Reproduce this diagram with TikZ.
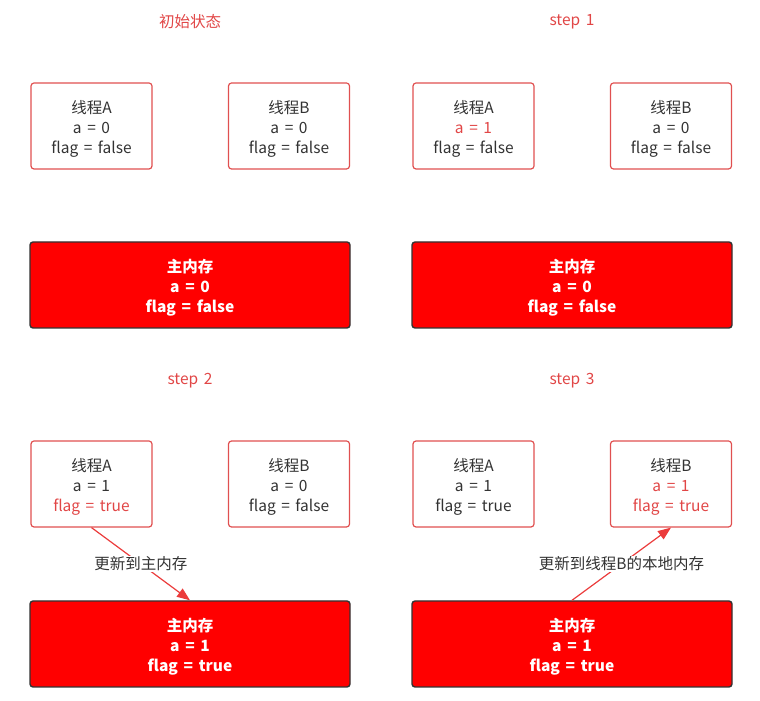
\documentclass[tikz,border=0pt]{standalone}
\usepackage{fontspec}
\setmainfont{Noto Sans CJK SC}
\newfontfamily\cjk[WordSpace=1.6]{Noto Sans CJK SC}
\usetikzlibrary{arrows.meta}
\newcommand{\tstrut}{\rule{0pt}{19pt}}
\definecolor{boxred}{RGB}{224,80,80}
\definecolor{txtgray}{RGB}{51,51,51}
\definecolor{hired}{RGB}{225,70,70}
\definecolor{memred}{RGB}{255,0,0}
\definecolor{memedge}{RGB}{51,51,51}
\definecolor{arrred}{RGB}{235,60,60}
\tikzset{
  thr/.style={draw=boxred, line width=1.2pt, rounded corners=3pt, minimum width=121pt, minimum height=86pt, align=center, text=txtgray, font=\cjk\fontsize{15.5}{20}\selectfont, inner sep=0pt},
  mem/.style={draw=memedge, fill=memred, line width=1.4pt, rounded corners=3pt, minimum width=320pt, minimum height=86pt, align=center, text=white, font=\cjk\bfseries\fontsize{15.5}{20}\selectfont, inner sep=0pt},
  ttl/.style={text=hired, font=\cjk\fontsize{15.5}{18}\selectfont},
  upd/.style={draw=arrred, line width=1.2pt, -{Triangle[width=10pt,length=13pt]}},
  lbl/.style={fill=white, text=txtgray, font=\cjk\fontsize{15.5}{18}\selectfont, inner sep=1pt}
}
\begin{document}
\begin{tikzpicture}[x=1pt,y=1pt]
\useasboundingbox (0,0) rectangle (760,701);
% titles
\node[ttl] (t0) at (190,679) {初始状态};
\node[ttl] (t1) at (572,679) {step 1};
\node[ttl] (t2) at (190,320) {step 2};
\node[ttl] (t3) at (572,320) {step 3};
% initial
\node[thr] (A0) at (91.5,575) {\tstrut 线程A\\a = 0\\flag = false};
\node[thr] (B0) at (289,575) {\tstrut 线程B\\a = 0\\flag = false};
\node[mem] (M0) at (190,416) {\tstrut 主内存\\a = 0\\flag = false};
% step 1
\node[thr] (A1) at (473.5,575) {\tstrut 线程A\\\textcolor{hired}{a = 1}\\flag = false};
\node[thr] (B1) at (671,575) {\tstrut 线程B\\a = 0\\flag = false};
\node[mem] (M1) at (572,416) {\tstrut 主内存\\a = 0\\flag = false};
% step 2
\node[thr] (A2) at (91.5,217) {\tstrut 线程A\\a = 1\\\textcolor{hired}{flag = true}};
\node[thr] (B2) at (289,217) {\tstrut 线程B\\a = 0\\flag = false};
\node[mem] (M2) at (190,57) {\tstrut 主内存\\a = 1\\flag = true};
% step 3
\node[thr] (A3) at (473.5,217) {\tstrut 线程A\\a = 1\\flag = true};
\node[thr] (B3) at (671,217) {\tstrut 线程B\\\textcolor{hired}{a = 1}\\\textcolor{hired}{flag = true}};
\node[mem] (M3) at (572,57) {\tstrut 主内存\\a = 1\\flag = true};
% arrows
\draw[upd] (A2.south) -- node[lbl, midway] (l2) {更新到主内存} (M2.north);
\draw[upd] (M3.north) -- node[lbl, midway] (l3) {更新到线程B的本地内存} (B3.south);
\end{tikzpicture}
\end{document}
